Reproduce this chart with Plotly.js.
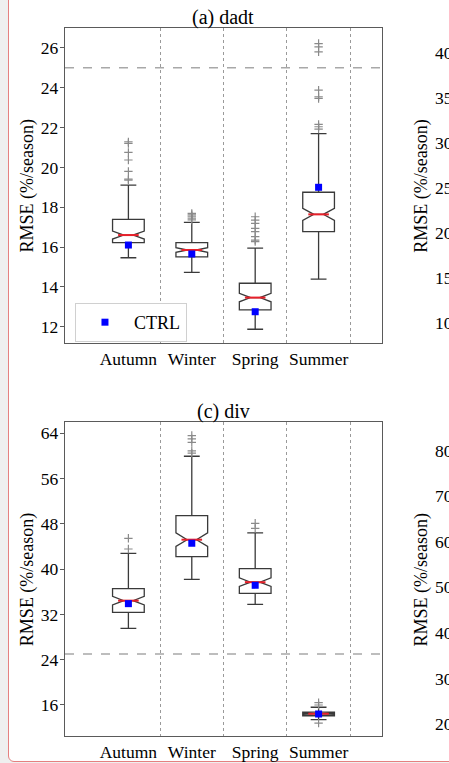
<!DOCTYPE html>
<html>
<head>
<meta charset="utf-8">
<script src="https://cdn.plot.ly/plotly-3.0.1.min.js"></script>
<style>
  html, body { margin: 0; padding: 0; overflow: hidden; background: #efefef; width: 449px; height: 763px; }
  #card { position: absolute; left: 8px; top: -12px; width: 1200px; height: 772px;
          border: 1.5px solid #e58080; border-radius: 6px; background: #ffffff; }
  #chart { position: absolute; left: 0; top: 0; width: 800px; height: 763px; font-family: "Liberation Serif", serif; }
</style>
</head>
<body>
<div id="card"></div>
<div id="chart"></div>
<script>
// ---------- data ----------
const seasons = ['Autumn', 'Winter', 'Spring', 'Summer'];
const seasonPos = [0, 1, 2, 3];
const threshold = 25;
const yTitle = 'RMSE (%/season)';

// (a) dadt
const dadtQ1     = [16.22, 15.50, 12.84, 16.77];
const dadtMedian = [16.60, 15.85, 13.46, 17.64];
const dadtQ3     = [17.39, 16.22, 14.18, 18.75];
const dadtLow    = [15.46, 14.73, 11.87, 14.39];
const dadtHigh   = [19.11, 17.24, 15.94, 21.70];
const dadtNotch  = [0.20, 0.12, 0.21, 0.30];
const dadtCtrl   = [16.10, 15.65, 12.75, 19.00];
const dadtOutAutumn = [19.36, 19.41, 19.80, 20.37, 20.75, 21.20, 21.28];
const dadtOutWinter = [17.36, 17.45, 17.55, 17.62, 17.69];
const dadtOutSpring = [16.27, 16.35, 16.52, 16.77, 16.94, 17.19, 17.35, 17.52];
const dadtOutSummer = [21.92, 22.04, 22.16, 23.46, 23.54, 23.88, 25.80, 26.05, 26.22];

// (c) div
const divQ1     = [32.37, 42.20, 35.73, 14.10];
const divMedian = [34.43, 45.20, 37.70, 14.45];
const divQ3     = [36.55, 49.44, 40.10, 14.75];
const divLow    = [29.54, 38.20, 33.79, 13.40];
const divHigh   = [42.80, 59.94, 46.40, 15.60];
const divNotch  = [0.75, 1.20, 0.75, 0.10];
const divCtrl   = [33.90, 44.57, 37.14, 14.40];
const divOutAutumn = [43.56, 45.45];
const divOutWinter = [60.50, 60.90, 62.40, 63.00, 63.60];
const divOutSpring = [47.20, 48.10];
const divOutSummer = [12.80, 16.00, 16.40];

// ---------- styles ----------
const FONT = 'Liberation Serif';
const boxWidth = 0.5;
const notchW = 0.35;
const halfWaist = boxWidth / 2 * (1 - notchW);

function boxTrace(q1, med, q3, lo, hi, notch, xa, ya) {
  return {
    type: 'box', x: seasonPos, q1: q1, median: med, q3: q3,
    lowerfence: lo, upperfence: hi, notched: true, notchspan: notch,
    notchwidth: notchW, width: boxWidth, whiskerwidth: 0.5, boxpoints: false,
    fillcolor: '#ffffff', line: { color: '#3a3a3a', width: 1.3 },
    xaxis: xa, yaxis: ya, showlegend: false, hoverinfo: 'skip'
  };
}
function medianTrace(med, xa, ya) {
  const x = [], y = [];
  med.forEach((m, i) => { x.push(seasonPos[i] - halfWaist, seasonPos[i] + halfWaist, null); y.push(m, m, null); });
  return { type: 'scatter', mode: 'lines', x: x, y: y, line: { color: '#e8202a', width: 2 },
           xaxis: xa, yaxis: ya, showlegend: false, hoverinfo: 'skip' };
}
function outlierTrace(groups, xa, ya) {
  const x = [], y = [];
  groups.forEach((g, i) => g.forEach(v => { x.push(seasonPos[i]); y.push(v); }));
  return { type: 'scatter', mode: 'markers', x: x, y: y,
           marker: { symbol: 'cross-thin-open', size: 6, color: '#8a8a8a', line: { color: '#8a8a8a', width: 1.2 } },
           xaxis: xa, yaxis: ya, showlegend: false, hoverinfo: 'skip' };
}
function ctrlTrace(vals, xa, ya, show) {
  return { type: 'scatter', mode: 'markers', name: 'CTRL', x: seasonPos, y: vals,
           marker: { symbol: 'square', size: 7, color: '#0000ff' },
           xaxis: xa, yaxis: ya, showlegend: show };
}

const data = [
  boxTrace(dadtQ1, dadtMedian, dadtQ3, dadtLow, dadtHigh, dadtNotch, 'x', 'y'),
  medianTrace(dadtMedian, 'x', 'y'),
  outlierTrace([dadtOutAutumn, dadtOutWinter, dadtOutSpring, dadtOutSummer], 'x', 'y'),
  ctrlTrace(dadtCtrl, 'x', 'y', true),
  boxTrace(divQ1, divMedian, divQ3, divLow, divHigh, divNotch, 'x2', 'y2'),
  medianTrace(divMedian, 'x2', 'y2'),
  outlierTrace([divOutAutumn, divOutWinter, divOutSpring, divOutSummer], 'x2', 'y2'),
  ctrlTrace(divCtrl, 'x2', 'y2', false),
  { type: 'scatter', x: [], y: [], xaxis: 'x3', yaxis: 'y3', showlegend: false },
  { type: 'scatter', x: [], y: [], xaxis: 'x4', yaxis: 'y4', showlegend: false }
];

function xAxis(domain, anchor, showLabels) {
  return {
    domain: domain, anchor: anchor, range: [-1, 4],
    tickmode: 'array', tickvals: seasonPos, ticktext: seasons, ticks: '',
    showticklabels: showLabels,
    showgrid: false, zeroline: false, showline: true, mirror: true,
    linecolor: '#5a5a5a', linewidth: 1.3,
    tickfont: { family: FONT, size: 17.5, color: '#000' },
    minor: { tickmode: 'array', tickvals: [0.5, 1.5, 2.5, 3.5], showgrid: true,
             griddash: 'dot', gridcolor: '#9a9a9a', gridwidth: 1, ticks: '' }
  };
}
function yAxis(domain, anchor, range, dtick) {
  return {
    domain: domain, anchor: anchor, range: range, tick0: 0, dtick: dtick,
    ticks: 'outside', ticklen: 4, tickcolor: '#5a5a5a', tickwidth: 1, ticklabelstandoff: -2,
    showgrid: false, zeroline: false, showline: true, mirror: true,
    linecolor: '#5a5a5a', linewidth: 1.3,
    tickfont: { family: FONT, size: 17.5, color: '#000' }
  };
}

const topDom = [0.5551, 1], botDom = [0, 0.4431];
const leftDom = [0, 0.4452], rightDom = [0.5538, 1];

function yTitleAnn(xDom, yDom) {
  return { text: yTitle, xref: 'paper', yref: 'paper', x: xDom[0], y: (yDom[0] + yDom[1]) / 2,
           xanchor: 'center', yanchor: 'middle', xshift: -38, textangle: -90, showarrow: false,
           font: { family: FONT, size: 18, color: '#000' } };
}

const layout = {
  width: 800, height: 763,
  margin: { l: 65, r: 23, t: 28, b: 27 },
  paper_bgcolor: 'rgba(0,0,0,0)', plot_bgcolor: '#ffffff',
  font: { family: FONT, color: '#000' },
  xaxis: xAxis(leftDom, 'y', true),
  yaxis: yAxis(topDom, 'x', [11.18, 27.0], 2),
  xaxis2: xAxis(leftDom, 'y2', true),
  yaxis2: yAxis(botDom, 'x2', [10.52, 65.94], 8),
  xaxis3: xAxis(rightDom, 'y3', false),
  yaxis3: yAxis(topDom, 'x3', [7.74, 42.8], 5),
  xaxis4: xAxis(rightDom, 'y4', false),
  yaxis4: yAxis(botDom, 'x4', [17.4, 86.2], 10),
  showlegend: true,
  legend: { x: 0.014, y: 0.6116, xanchor: 'left', yanchor: 'top', bgcolor: '#ffffff',
            bordercolor: '#d0d0d0', borderwidth: 1, itemwidth: 48,
            font: { family: FONT, size: 18, color: '#000' } },
  shapes: [
    { type: 'line', xref: 'x domain', yref: 'y', x0: 0, x1: 1, y0: threshold, y1: threshold,
      line: { color: '#a8a8a8', width: 1.5, dash: 'dash' } },
    { type: 'line', xref: 'x2 domain', yref: 'y2', x0: 0, x1: 1, y0: threshold, y1: threshold,
      line: { color: '#a8a8a8', width: 1.5, dash: 'dash' } }
  ],
  annotations: [
    { text: '(a) dadt', xref: 'paper', yref: 'paper', x: 0.4452 / 2, y: 1.0155,
      xanchor: 'center', yanchor: 'middle', showarrow: false, font: { family: FONT, size: 20, color: '#000' } },
    { text: '(c) div', xref: 'paper', yref: 'paper', x: 0.4452 / 2, y: 0.458,
      xanchor: 'center', yanchor: 'middle', showarrow: false, font: { family: FONT, size: 20, color: '#000' } },
    yTitleAnn(leftDom, topDom),
    yTitleAnn(leftDom, botDom),
    yTitleAnn(rightDom, topDom),
    yTitleAnn(rightDom, botDom)
  ]
};

Plotly.newPlot('chart', data, layout, { displayModeBar: false, staticPlot: true });
</script>
</body>
</html>
